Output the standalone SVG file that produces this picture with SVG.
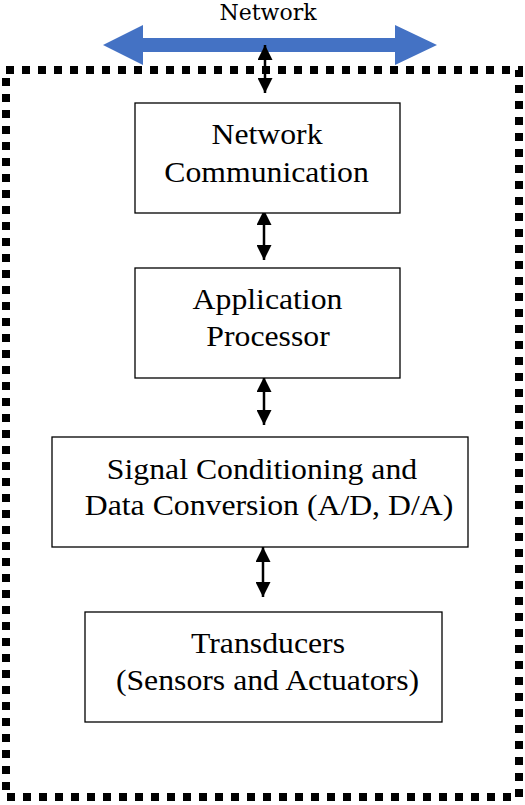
<svg xmlns="http://www.w3.org/2000/svg" width="525" height="805" viewBox="0 0 525 805">
<style>
.box{fill:#fff;stroke:#000;stroke-width:1.3}
.t{font-family:"Liberation Serif","Times New Roman",serif;font-size:29px;fill:#000;text-anchor:middle}
.c{stroke:#000;stroke-width:2.5;fill:none;marker-start:url(#ah);marker-end:url(#ah)}
</style>
<defs>
<marker id="ah" viewBox="0 0 10 10" refX="10" refY="5" markerWidth="6" markerHeight="6" orient="auto-start-reverse" markerUnits="strokeWidth"><path d="M0,0 L10,5 L0,10 Z" fill="#000"/></marker>
</defs>
<g id="network">
<text x="268" y="20" style="font-family:'DejaVu Serif','Liberation Serif',serif;font-size:22px;text-anchor:middle">Network</text>
<polygon points="103,45 143,25 143,38 395,38 395,25 437,45 395,65 395,52 143,52 143,65" fill="#4472C4"/>
</g>
<g id="boundary">
<rect x="6" y="70" width="513" height="727" fill="none" stroke="#000" stroke-width="8" stroke-dasharray="8 8"/>
</g>
<g id="connectors">
<line class="c" x1="265" y1="45" x2="265" y2="93"/>
<line class="c" x1="264" y1="210" x2="264" y2="260"/>
<line class="c" x1="264" y1="377" x2="264" y2="425"/>
<line class="c" x1="263" y1="547" x2="263" y2="597"/>
</g>
<g id="n1">
<rect class="box" x="135" y="103" width="265" height="110"/>
<text class="t" transform="translate(267,144) scale(1.095,1)">Network</text>
<text class="t" transform="translate(266.5,182) scale(1.095,1)">Communication</text>
</g>
<g id="n2">
<rect class="box" x="135" y="268" width="265" height="110"/>
<text class="t" transform="translate(267.5,309) scale(1.095,1)">Application</text>
<text class="t" transform="translate(268,346) scale(1.095,1)">Processor</text>
</g>
<g id="n3">
<rect class="box" x="52" y="437" width="416" height="110"/>
<text class="t" transform="translate(262,479) scale(1.095,1)">Signal Conditioning and</text>
<text class="t" transform="translate(269,515) scale(1.095,1)">Data Conversion (A/D, D/A)</text>
</g>
<g id="n4">
<rect class="box" x="85" y="612" width="357" height="110"/>
<text class="t" transform="translate(268,653) scale(1.095,1)">Transducers</text>
<text class="t" transform="translate(267.5,690) scale(1.095,1)">(Sensors and Actuators)</text>
</g>
</svg>
